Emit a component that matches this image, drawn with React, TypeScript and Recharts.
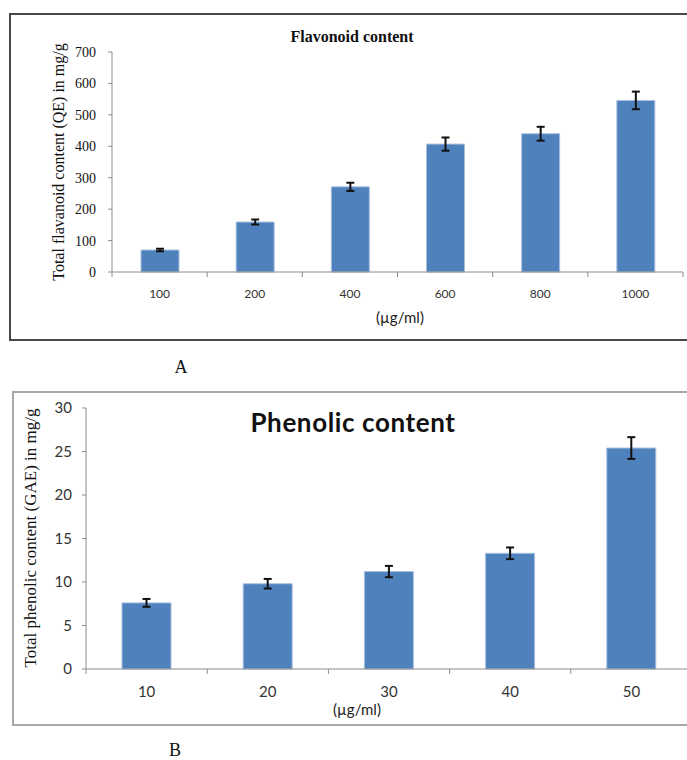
import React from 'react';
import { BarChart, Bar, XAxis, YAxis, ErrorBar } from 'recharts';

// panel A - flavonoid content
const flavonoidDoses = ['100', '200', '400', '600', '800', '1000'];
const flavonoidValues = [70, 159, 271, 407, 440, 546];
const flavonoidErrors = [4, 8, 13, 21, 22, 28];
const flavonoidTicks = [0, 100, 200, 300, 400, 500, 600, 700];

// panel B - phenolic content
const phenolicDoses = ['10', '20', '30', '40', '50'];
const phenolicValues = [7.6, 9.8, 11.2, 13.3, 25.4];
const phenolicErrors = [0.45, 0.55, 0.65, 0.67, 1.25];
const phenolicTicks = [0, 5, 10, 15, 20, 25, 30];

const flavonoidData = flavonoidDoses.map((dose, i) => ({
    dose,
    value: flavonoidValues[i],
    err: flavonoidErrors[i],
}));

const phenolicData = phenolicDoses.map((dose, i) => ({
    dose,
    value: phenolicValues[i],
    err: phenolicErrors[i],
}));

const BAR_FILL = '#4f81bd';
const BAR_EDGE = '#a9c0de';
const AXIS_GREY = '#8c8c8c';
const SERIF = '"Liberation Serif", "Times New Roman", serif';
const SANS = 'Lato, "Open Sans", sans-serif';

// x ticks sit on category boundaries, like the spreadsheet original
const BandTick = (props: any) => {
    const { x, y, payload, index, count, fontSize, dy, bandHalf, color } = props;
    const half = payload && payload.offset ? payload.offset : bandHalf;
    return (
        <g>
            <line x1={x - half} y1={y} x2={x - half} y2={y + 5} stroke={AXIS_GREY} />
            {index === count - 1 && (
                <line x1={x + half} y1={y} x2={x + half} y2={y + 5} stroke={AXIS_GREY} />
            )}
            <text
                x={x}
                y={y + dy}
                textAnchor="middle"
                dominantBaseline="central"
                fontFamily={SANS}
                fontSize={fontSize}
                fill={color}
            >
                {payload.value}
            </text>
        </g>
    );
};

// px/py instead of x/y so the Label wrapper does not overwrite them
const SideTitle = (props: any) => {
    const { text, px, py, size } = props;
    return (
        <text
            x={px}
            y={py}
            transform={`rotate(-90, ${px}, ${py})`}
            textAnchor="middle"
            dominantBaseline="central"
            fontFamily={SERIF}
            fontSize={size}
            fill="#111"
        >
            {text}
        </text>
    );
};

const BottomTitle = (props: any) => {
    const { text, px, py, size } = props;
    return (
        <text x={px} y={py} textAnchor="middle" dominantBaseline="central" fontFamily={SANS} fontSize={size} fill="#222">
            {text}
        </text>
    );
};

const App = () => {
    return (
        <div style={{ position: 'relative', width: 687, height: 760, overflow: 'hidden', background: '#fff' }}>
            <style>{'html,body{margin:0;overflow:hidden}'}</style>

            {/* frames */}
            <div style={{ position: 'absolute', left: 9, top: 13, width: 720, height: 328, border: '2px solid #474747', boxSizing: 'border-box' }} />
            <div style={{ position: 'absolute', left: 12, top: 391, width: 720, height: 335, border: '2px solid #a8a8a8', boxSizing: 'border-box' }} />

            {/* panel A */}
            <div style={{ position: 'absolute', left: 0, top: 0 }}>
                <BarChart width={687} height={345} data={flavonoidData} margin={{ top: 52, right: 4, bottom: 0, left: 0 }}>
                    <XAxis
                        dataKey="dose"
                        height={73}
                        tickLine={false}
                        tickSize={0}
                        tickMargin={0}
                        axisLine={{ stroke: AXIS_GREY }}
                        interval={0}
                        tick={<BandTick count={flavonoidDoses.length} fontSize={12} dy={21} bandHalf={47.6} color="#333" />}
                        label={<BottomTitle text="(µg/ml)" px={400} py={317} size={15} />}
                    />
                    <YAxis
                        width={112}
                        domain={[0, 700]}
                        ticks={flavonoidTicks}
                        tickSize={4}
                        tickMargin={12}
                        axisLine={{ stroke: AXIS_GREY }}
                        tickLine={{ stroke: AXIS_GREY }}
                        tick={{ fill: '#111', fontSize: 14, fontFamily: SERIF }}
                        label={<SideTitle text="Total flavanoid content (QE) in mg/g" px={58} py={162} size={16} />}
                    />
                    <Bar dataKey="value" fill={BAR_FILL} stroke={BAR_EDGE} strokeWidth={1} barSize={38} isAnimationActive={false}>
                        <ErrorBar dataKey="err" width={4} stroke="#111" strokeWidth={2} isAnimationActive={false} />
                    </Bar>
                </BarChart>
            </div>
            <div style={{ position: 'absolute', left: 0, top: 28, width: 704, textAlign: 'center', fontFamily: SERIF, fontWeight: 'bold', fontSize: 16, lineHeight: '18px', color: '#111' }}>
                Flavonoid content
            </div>
            <div style={{ position: 'absolute', left: 171, top: 357, width: 20, textAlign: 'center', fontFamily: SERIF, fontSize: 18, lineHeight: '20px', color: '#111' }}>
                A
            </div>

            {/* panel B */}
            <div style={{ position: 'absolute', left: 0, top: 380 }}>
                <BarChart width={695} height={350} data={phenolicData} margin={{ top: 28, right: 3, bottom: 0, left: 0 }}>
                    <XAxis
                        dataKey="dose"
                        height={61}
                        tickLine={false}
                        tickSize={0}
                        tickMargin={0}
                        axisLine={{ stroke: AXIS_GREY }}
                        interval={0}
                        tick={<BandTick count={phenolicDoses.length} fontSize={15} dy={22} bandHalf={60.6} color="#333" />}
                        label={<BottomTitle text="(µg/ml)" px={357} py={329} size={15} />}
                    />
                    <YAxis
                        width={86}
                        domain={[0, 30]}
                        ticks={phenolicTicks}
                        tickSize={4}
                        tickMargin={10}
                        axisLine={{ stroke: AXIS_GREY }}
                        tickLine={{ stroke: AXIS_GREY }}
                        tick={{ fill: '#333', fontSize: 15, fontFamily: SANS }}
                        label={<SideTitle text="Total phenolic content (GAE) in mg/g" px={30} py={158} size={17} />}
                    />
                    <Bar dataKey="value" fill={BAR_FILL} stroke={BAR_EDGE} strokeWidth={1} barSize={49} isAnimationActive={false}>
                        <ErrorBar dataKey="err" width={4} stroke="#111" strokeWidth={2} isAnimationActive={false} />
                    </Bar>
                </BarChart>
            </div>
            <div style={{ position: 'absolute', left: 0, top: 406, width: 706, textAlign: 'center', fontFamily: SANS, fontWeight: 'bold', fontSize: 26, letterSpacing: 0.6, lineHeight: '32px', color: '#111' }}>
                Phenolic content
            </div>
            <div style={{ position: 'absolute', left: 165, top: 740, width: 20, textAlign: 'center', fontFamily: SERIF, fontSize: 18, lineHeight: '20px', color: '#111' }}>
                B
            </div>
        </div>
    );
};

export default App;
